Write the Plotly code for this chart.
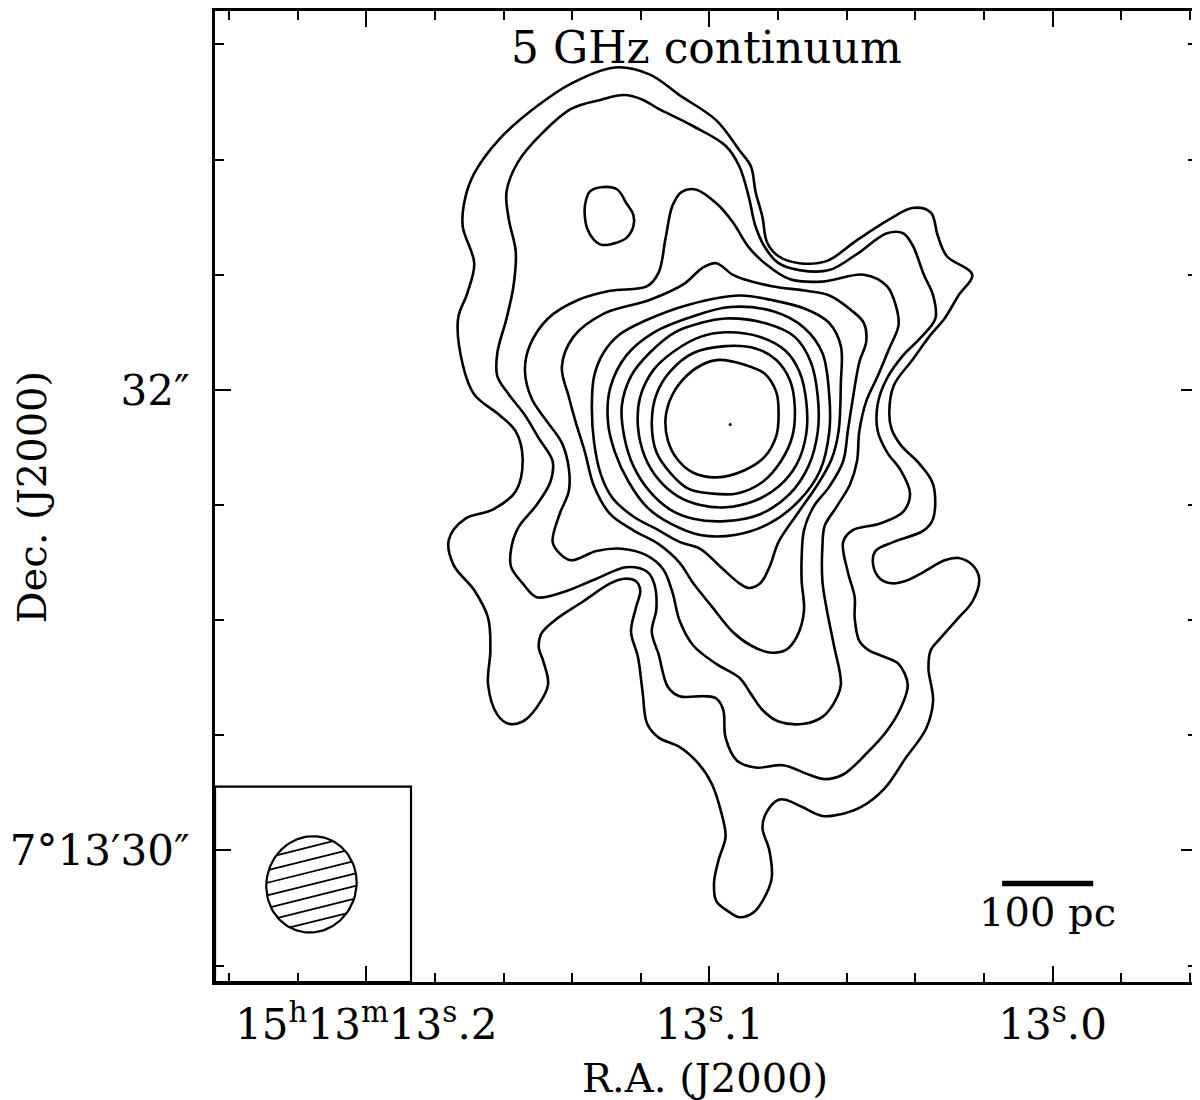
import numpy as np
import plotly.graph_objects as go

# map centre: RA 15h13m13.1s, Dec +7d13'32"; contour vertices are offsets in arcsec (east, north)
RA0_S = 13.1
DEC0_ARCSEC = 32.0
DEC0_DEG = 7 + 13 / 60 + 32 / 3600
SEC_PER_ARCSEC = 1.0 / (15.0 * np.cos(np.radians(DEC0_DEG)))

# contours, outermost (c1) to innermost (c10)
c1_dra = [0.41, 0.60, 0.75, 0.91, 1.02, 1.06, 1.07, 1.02, 1.05, 1.09,
          1.07, 1.02, 0.91, 0.84, 0.81, 0.84, 0.94, 1.06, 1.13, 1.11,
          1.02, 0.96, 0.95, 0.96, 0.92, 0.87, 0.81, 0.75, 0.70, 0.72,
          0.74, 0.73, 0.67, 0.55, 0.43, 0.37, 0.32, 0.30, 0.32, 0.34,
          0.31, 0.29, 0.27, 0.22, 0.13, 0.05, -0.01, -0.05, -0.07, -0.04,
          -0.02, -0.03, -0.09, -0.13, -0.19, -0.23, -0.27, -0.26, -0.23, -0.25,
          -0.30, -0.33, -0.40, -0.49, -0.58, -0.66, -0.76, -0.85, -0.94, -0.97,
          -0.95, -0.96, -1.00, -1.08, -1.14, -1.17, -1.14, -1.08, -1.02, -0.93,
          -0.85, -0.79, -0.74, -0.71, -0.72, -0.80, -0.93, -0.97, -0.97, -0.91,
          -0.83, -0.79, -0.78, -0.80, -0.88, -0.96, -1.02, -1.08, -1.14, -1.03,
          -0.99, -0.96, -0.88, -0.78, -0.64, -0.51, -0.39, -0.30, -0.25, -0.23,
          -0.20, -0.18, -0.13, -0.03, 0.13, 0.26]
c1_ddec = [1.40, 1.33, 1.23, 1.09, 0.94, 0.83, 0.71, 0.55, 0.42, 0.31,
           0.11, -0.02, -0.11, -0.18, -0.30, -0.44, -0.52, -0.56, -0.65, -0.76,
           -0.87, -0.99, -1.13, -1.28, -1.41, -1.45, -1.44, -1.38, -1.28, -1.18,
           -1.12, -1.06, -1.00, -0.92, -0.84, -0.82, -0.83, -0.87, -0.95, -1.05,
           -1.16, -1.31, -1.45, -1.51, -1.55, -1.62, -1.71, -1.83, -1.94, -2.04,
           -2.14, -2.22, -2.27, -2.29, -2.27, -2.22, -2.12, -2.00, -1.90, -1.83,
           -1.78, -1.78, -1.81, -1.85, -1.84, -1.81, -1.73, -1.60, -1.47, -1.35,
           -1.21, -1.13, -1.08, -0.99, -0.92, -0.82, -0.76, -0.73, -0.74, -0.79,
           -0.83, -0.84, -0.82, -0.76, -0.70, -0.66, -0.61, -0.56, -0.41, -0.32,
           -0.24, -0.17, -0.10, 0.02, 0.13, 0.24, 0.31, 0.41, 0.50, 0.58,
           0.67, 0.77, 0.79, 0.74, 0.65, 0.56, 0.55, 0.58, 0.64, 0.75,
           0.86, 0.97, 1.04, 1.17, 1.28, 1.37]

c2_dra = [0.37, 0.47, 0.60, 0.72, 0.83, 0.88, 0.87, 0.84, 0.85, 0.88,
          0.92, 0.92, 0.87, 0.80, 0.74, 0.68, 0.69, 0.75, 0.83, 0.86,
          0.86, 0.81, 0.75, 0.64, 0.49, 0.36, 0.27, 0.24, 0.23, 0.25,
          0.22, 0.18, 0.13, 0.02, -0.03, -0.06, -0.07, -0.12, -0.20, -0.32,
          -0.43, -0.50, -0.58, -0.68, -0.77, -0.83, -0.86, -0.82, -0.76, -0.69,
          -0.65, -0.63, -0.63, -0.60, -0.58, -0.62, -0.74, -0.84, -0.87, -0.83,
          -0.77, -0.73, -0.73, -0.77, -0.84, -0.91, -0.98, -0.97, -0.93, -0.88,
          -0.84, -0.77, -0.64, -0.52, -0.39, -0.30, -0.24, -0.20, -0.17, -0.13,
          -0.07, 0.08, 0.22, 0.29]
c2_ddec = [1.28, 1.26, 1.22, 1.12, 0.99, 0.86, 0.74, 0.60, 0.45, 0.31,
           0.16, 0.06, -0.02, -0.11, -0.21, -0.31, -0.40, -0.50, -0.60, -0.69,
           -0.77, -0.84, -0.90, -0.88, -0.82, -0.77, -0.79, -0.84, -0.95, -1.05,
           -1.15, -1.29, -1.33, -1.33, -1.34, -1.39, -1.51, -1.61, -1.64, -1.63,
           -1.67, -1.69, -1.67, -1.58, -1.48, -1.38, -1.28, -1.19, -1.16, -1.13,
           -1.09, -0.99, -0.90, -0.79, -0.66, -0.61, -0.58, -0.53, -0.45, -0.35,
           -0.27, -0.18, -0.06, 0.05, 0.15, 0.22, 0.31, 0.41, 0.50, 0.63,
           0.68, 0.68, 0.59, 0.52, 0.52, 0.55, 0.62, 0.71, 0.84, 0.97,
           1.06, 1.15, 1.22, 1.26]

c3_dra = [0.06, 0.12, 0.16, 0.19, 0.22, 0.27, 0.43, 0.57, 0.70, 0.78,
          0.80, 0.77, 0.71, 0.64, 0.61, 0.61, 0.65, 0.68, 0.65, 0.60,
          0.49, 0.38, 0.27, 0.20, 0.16, 0.13, 0.07, -0.03, -0.13, -0.18,
          -0.23, -0.30, -0.41, -0.49, -0.54, -0.57, -0.54, -0.51, -0.49, -0.49,
          -0.50, -0.55, -0.61, -0.64, -0.65, -0.68, -0.73, -0.78, -0.82, -0.81,
          -0.77, -0.67, -0.49, -0.35, -0.24, -0.17, -0.10, -0.03]
c3_ddec = [0.87, 0.86, 0.80, 0.66, 0.51, 0.45, 0.43, 0.39, 0.31, 0.19,
           0.08, -0.04, -0.13, -0.23, -0.34, -0.44, -0.54, -0.66, -0.71, -0.74,
           -0.70, -0.69, -0.72, -0.78, -0.88, -1.00, -1.11, -1.19, -1.25, -1.32,
           -1.39, -1.44, -1.45, -1.42, -1.36, -1.28, -1.11, -0.96, -0.83, -0.68,
           -0.59, -0.51, -0.41, -0.31, -0.18, -0.05, 0.06, 0.18, 0.28, 0.36,
           0.45, 0.50, 0.47, 0.48, 0.55, 0.62, 0.73, 0.81]

c4_dra = [-0.03, -0.10, -0.15, -0.27, -0.42, -0.52, -0.61, -0.67, -0.68, -0.65,
          -0.62, -0.60, -0.58, -0.52, -0.45, -0.41, -0.40, -0.40, -0.41, -0.38,
          -0.33, -0.26, -0.18, -0.10, -0.01, 0.07, 0.13, 0.22, 0.33, 0.43,
          0.50, 0.54, 0.58, 0.61, 0.64, 0.59, 0.46, 0.26, 0.11, 0.03]
c4_ddec = [0.55, 0.50, 0.48, 0.45, 0.43, 0.41, 0.35, 0.29, 0.21, 0.12,
           -0.05, -0.18, -0.31, -0.42, -0.51, -0.61, -0.73, -0.83, -0.96, -1.07,
           -1.13, -1.14, -1.11, -1.05, -0.94, -0.84, -0.75, -0.67, -0.61, -0.54,
           -0.42, -0.27, -0.14, -0.03, 0.10, 0.23, 0.33, 0.39, 0.46, 0.53]

c5_dra = [-0.13, -0.27, -0.42, -0.52, -0.57, -0.57, -0.56, -0.53, -0.47, -0.38,
          -0.30, -0.26, -0.22, -0.17, -0.13, -0.05, 0.04, 0.13, 0.22, 0.33,
          0.42, 0.47, 0.50, 0.51, 0.50, 0.46, 0.39, 0.28, 0.09]
c5_ddec = [0.41, 0.39, 0.35, 0.29, 0.19, 0.03, -0.18, -0.30, -0.41, -0.54,
           -0.66, -0.77, -0.84, -0.86, -0.84, -0.77, -0.69, -0.66, -0.61, -0.55,
           -0.47, -0.37, -0.23, -0.07, 0.06, 0.16, 0.24, 0.30, 0.37]

c6_dra = [-0.09, -0.28, -0.41, -0.49, -0.52, -0.52, -0.48, -0.39, -0.26, -0.11,
          0.04, 0.17, 0.27, 0.35, 0.41, 0.44, 0.43, 0.36, 0.24, 0.07]
c6_ddec = [0.36, 0.34, 0.27, 0.16, -0.03, -0.18, -0.35, -0.48, -0.58, -0.63,
           -0.63, -0.58, -0.51, -0.40, -0.27, -0.14, 0.01, 0.15, 0.25, 0.32]

c7_dra = [-0.07, -0.24, -0.37, -0.44, -0.47, -0.47, -0.43, -0.35, -0.22, -0.07,
          0.07, 0.17, 0.26, 0.33, 0.37, 0.38, 0.34, 0.26, 0.15, 0.04]
c7_ddec = [0.31, 0.29, 0.23, 0.12, -0.03, -0.18, -0.33, -0.45, -0.54, -0.57,
           -0.56, -0.52, -0.44, -0.33, -0.20, -0.07, 0.06, 0.16, 0.25, 0.29]

c8_dra = [-0.07, -0.22, -0.33, -0.39, -0.42, -0.42, -0.38, -0.30, -0.20, -0.07,
          0.04, 0.14, 0.22, 0.28, 0.31, 0.30, 0.24, 0.15, 0.04]
c8_ddec = [0.25, 0.23, 0.17, 0.08, -0.05, -0.19, -0.32, -0.42, -0.48, -0.51,
           -0.50, -0.46, -0.39, -0.29, -0.16, -0.03, 0.09, 0.17, 0.23]

c9_dra = [-0.07, -0.20, -0.29, -0.35, -0.37, -0.36, -0.31, -0.23, -0.12, -0.01,
          0.09, 0.17, 0.23, 0.25, 0.23, 0.17, 0.07]
c9_ddec = [0.19, 0.18, 0.13, 0.04, -0.07, -0.20, -0.31, -0.40, -0.45, -0.45,
           -0.43, -0.36, -0.27, -0.14, -0.02, 0.08, 0.16]

c10_dra = [-0.04, -0.15, -0.24, -0.29, -0.30, -0.29, -0.24, -0.15, -0.03, 0.07,
           0.14, 0.18, 0.19, 0.16, 0.10, 0.03]
c10_ddec = [0.13, 0.11, 0.07, -0.01, -0.10, -0.20, -0.29, -0.35, -0.38, -0.36,
            -0.30, -0.22, -0.12, -0.02, 0.06, 0.11]

# small isolated knot north-east of the core
knot_dra = [0.54, 0.52, 0.47, 0.40, 0.36, 0.33, 0.33, 0.36, 0.40, 0.47, 0.50, 0.53, 0.54]
knot_ddec = [0.80, 0.86, 0.88, 0.87, 0.81, 0.76, 0.71, 0.66, 0.64, 0.63, 0.65, 0.70, 0.75]

peak_dra = [-0.09]
peak_ddec = [-0.15]

# synthesized beam (arcsec, deg) and its position in the corner box
beam_major = 0.42
beam_minor = 0.39
beam_pa = -15.0
beam_dra = 1.726
beam_ddec = -2.147

# 100 pc scale bar
scalebar_len = 0.395
scalebar_dra = -1.467
scalebar_ddec = -2.143

ra_ticks = [13.2, 13.1, 13.0]
ra_ticktext = ["15<sup>h</sup>13<sup>m</sup>13<sup>s</sup>.2", "13<sup>s</sup>.1", "13<sup>s</sup>.0"]
ra_minor = [13.24, 13.22, 13.18, 13.16, 13.14, 13.12, 13.08, 13.06, 13.04, 13.02, 12.98, 12.96]
dec_ticks = [30.0, 32.0]
dec_ticktext = ["7°13′30″", "32″"]
dec_minor = [29.5, 30.5, 31.0, 31.5, 32.5, 33.0, 33.5]

X_RANGE = [13.2441, 12.9579]
Y_RANGE = [29.429, 33.645]
FONT = "DejaVu Serif"


def to_ra(dra):
    return RA0_S + np.asarray(dra, dtype=float) * SEC_PER_ARCSEC


def to_dec(ddec):
    return DEC0_ARCSEC + np.asarray(ddec, dtype=float)


def closed(vals):
    return list(vals) + [vals[0]]


contours = [
    (c1_dra, c1_ddec), (c2_dra, c2_ddec), (c3_dra, c3_ddec), (c4_dra, c4_ddec),
    (c5_dra, c5_ddec), (c6_dra, c6_ddec), (c7_dra, c7_ddec), (c8_dra, c8_ddec),
    (c9_dra, c9_ddec), (c10_dra, c10_ddec), (knot_dra, knot_ddec),
]

fig = go.Figure()
for dra, ddec in contours:
    fig.add_trace(go.Scatter(
        x=to_ra(closed(dra)), y=to_dec(closed(ddec)), mode="lines",
        line=dict(color="black", width=2.6, shape="spline", smoothing=1.0),
        hoverinfo="skip",
    ))

fig.add_trace(go.Scatter(
    x=to_ra(peak_dra), y=to_dec(peak_ddec), mode="markers",
    marker=dict(color="black", size=3), hoverinfo="skip",
))

# beam ellipse (u = offset to the west/right, v = north)
a = beam_minor / 2
b = beam_major / 2
phi = np.radians(beam_pa)
t = np.linspace(0, 2 * np.pi, 121)
up, vp = a * np.cos(t), b * np.sin(t)
u = up * np.cos(phi) - vp * np.sin(phi)
v = up * np.sin(phi) + vp * np.cos(phi)
fig.add_trace(go.Scatter(
    x=to_ra(beam_dra - u), y=to_dec(beam_ddec + v), mode="lines",
    line=dict(color="black", width=2.2), hoverinfo="skip",
))

# hatching of the beam
hatch_angle = np.radians(14)
hatch_step = 0.053
d = np.array([np.cos(hatch_angle), np.sin(hatch_angle)])
n = np.array([-np.sin(hatch_angle), np.cos(hatch_angle)])


def to_beam_frame(vec):
    return np.array([vec[0] * np.cos(phi) + vec[1] * np.sin(phi),
                     -vec[0] * np.sin(phi) + vec[1] * np.cos(phi)])


hx, hy = [], []
for k in range(-3, 4):
    p = k * hatch_step * n
    pr, dr = to_beam_frame(p), to_beam_frame(d)
    A = (dr[0] / a) ** 2 + (dr[1] / b) ** 2
    B = 2 * (pr[0] * dr[0] / a ** 2 + pr[1] * dr[1] / b ** 2)
    C = (pr[0] / a) ** 2 + (pr[1] / b) ** 2 - 1
    disc = B * B - 4 * A * C
    if disc <= 0:
        continue
    for tt in ((-B - np.sqrt(disc)) / (2 * A), (-B + np.sqrt(disc)) / (2 * A)):
        q = p + tt * d
        hx.append(float(to_ra(beam_dra - q[0])))
        hy.append(float(to_dec(beam_ddec + q[1])))
    hx.append(None)
    hy.append(None)
fig.add_trace(go.Scatter(x=hx, y=hy, mode="lines",
                         line=dict(color="black", width=1.8), hoverinfo="skip"))

# scale bar
fig.add_trace(go.Scatter(
    x=to_ra([scalebar_dra + scalebar_len / 2, scalebar_dra - scalebar_len / 2]),
    y=to_dec([scalebar_ddec, scalebar_ddec]), mode="lines",
    line=dict(color="black", width=5.5), hoverinfo="skip",
))

fig.add_shape(type="rect", xref="x domain", yref="y domain",
              x0=0, x1=0.1996, y0=0, y1=0.2012,
              line=dict(color="black", width=2.2))

axis_common = dict(
    ticks="inside", ticklen=16, tickwidth=2.2, tickcolor="black",
    showline=True, linewidth=2.8, linecolor="black", mirror="ticks",
    showgrid=False, zeroline=False, tickfont=dict(family=FONT, size=42, color="black"),
)

# the page adds an 8 px body margin, margins are reduced to compensate
fig.update_layout(
    width=1200, height=1100,
    margin=dict(l=207, r=11, t=0, b=126),
    paper_bgcolor="white", plot_bgcolor="white",
    showlegend=False, hovermode=False,
    font=dict(family=FONT, size=40, color="black"),
    xaxis=dict(
        range=X_RANGE, tickmode="array", tickvals=ra_ticks, ticktext=ra_ticktext,
        ticklabelstandoff=4,
        minor=dict(tickmode="array", tickvals=ra_minor, ticks="inside",
                   ticklen=9, tickwidth=2.2, tickcolor="black", showgrid=False),
        **axis_common,
    ),
    yaxis=dict(
        range=Y_RANGE, tickmode="array", tickvals=dec_ticks, ticktext=dec_ticktext,
        ticklabelstandoff=14,
        minor=dict(tickmode="array", tickvals=dec_minor, ticks="inside",
                   ticklen=9, tickwidth=2.2, tickcolor="black", showgrid=False),
        **axis_common,
    ),
    annotations=[
        dict(text="5 GHz continuum", xref="paper", yref="paper", x=0.5, y=0.962,
             xanchor="center", yanchor="middle", showarrow=False,
             font=dict(family=FONT, size=44, color="black")),
        dict(text="100 pc", x=float(to_ra(scalebar_dra)), y=float(to_dec(scalebar_ddec - 0.125)),
             xref="x", yref="y", xanchor="center", yanchor="middle", showarrow=False,
             font=dict(family=FONT, size=40, color="black")),
        dict(text="R.A. (J2000)", xref="paper", yref="paper", x=0.499, y=-0.0986,
             xanchor="center", yanchor="middle", showarrow=False,
             font=dict(family=FONT, size=40, color="black")),
        dict(text="Dec. (J2000)", xref="paper", yref="paper", x=-0.1864, y=0.5,
             xanchor="center", yanchor="middle", textangle=-90, showarrow=False,
             font=dict(family=FONT, size=40, color="black")),
    ],
)

fig.write_html("out.html")
